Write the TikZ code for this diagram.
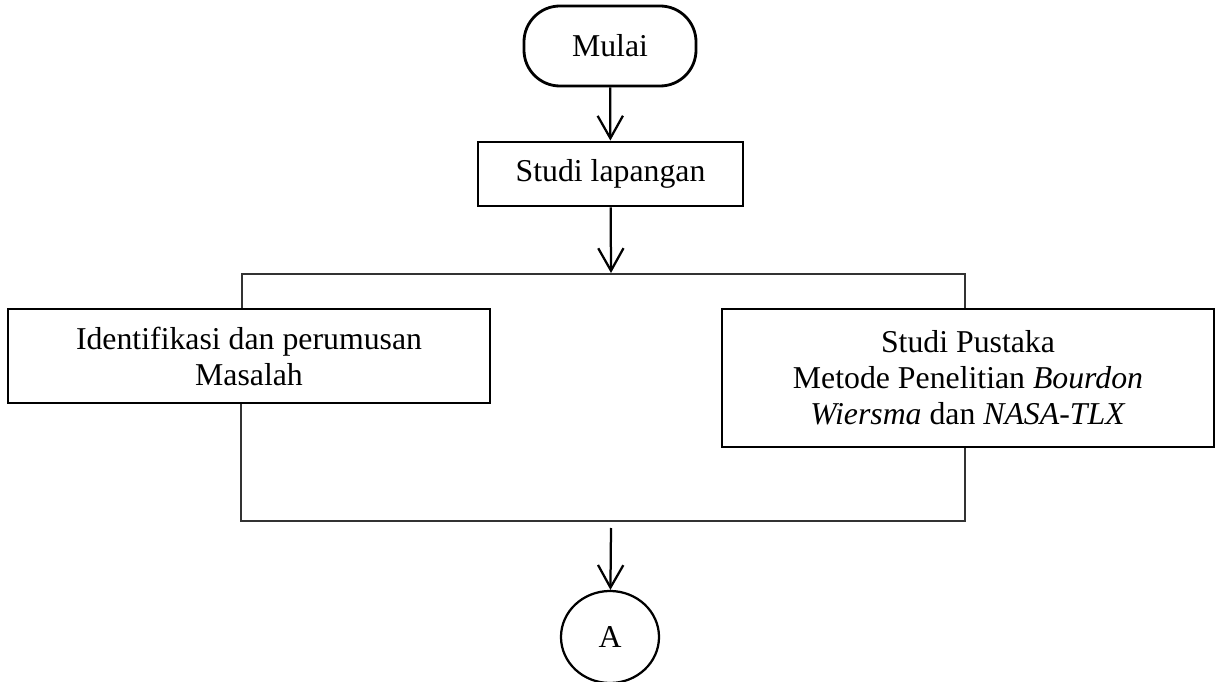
\documentclass[tikz,border=0pt]{standalone}
\usepackage{fontspec}
\setmainfont{Liberation Serif}
\usetikzlibrary{arrows.meta,shapes.geometric}
\begin{document}
\begin{tikzpicture}[x=0.025cm,y=-0.025cm,
  font=\fontsize{22.6}{25.6}\selectfont,
  box/.style={draw,line width=2pt,inner sep=0pt,align=center},
  line/.style={line width=1pt,black!80},
  arr/.style={line width=1.6pt,-{Straight Barb[length=16pt,width=18pt]}}]
\useasboundingbox (0,0) rectangle (1217,682);
\node[box,rounded corners=0.9cm,minimum width=4.3cm,minimum height=2cm] (mulai) at (610,46) {Mulai};
\node[box,minimum width=6.625cm,minimum height=1.6cm] (studi) at (610.5,174) {Studi lapangan};
\node[box,minimum width=12.05cm,minimum height=2.35cm] (ident) at (249,356) {Identifikasi dan perumusan\\Masalah};
\node[box,minimum width=12.3cm,minimum height=3.45cm] (pustaka) at (968,378) {Studi Pustaka\\Metode Penelitian \textit{Bourdon}\\\textit{Wiersma} dan \textit{NASA-TLX}};
\node[box,ellipse,line width=1.6pt,minimum width=2.45cm,minimum height=2.3cm] (A) at (610,637) {A};
% percabangan dan penggabungan
\coordinate (split) at (611,273);
\coordinate (tl) at (242,274);
\coordinate (tr) at (965,274);
\coordinate (bl) at (241,521);
\coordinate (br) at (965,521);
\coordinate (join) at (611,528);
\draw[arr] (mulai) -- (studi);
\draw[arr] (studi) -- (split);
\draw[line] (ident.north -| tl) -- (tl) -- (tr) -- (pustaka.north -| tr);
\draw[line] (ident.south -| bl) -- (bl) -- (br) -- (pustaka.south -| br);
\draw[arr] (join) -- (A);
\end{tikzpicture}
\end{document}
